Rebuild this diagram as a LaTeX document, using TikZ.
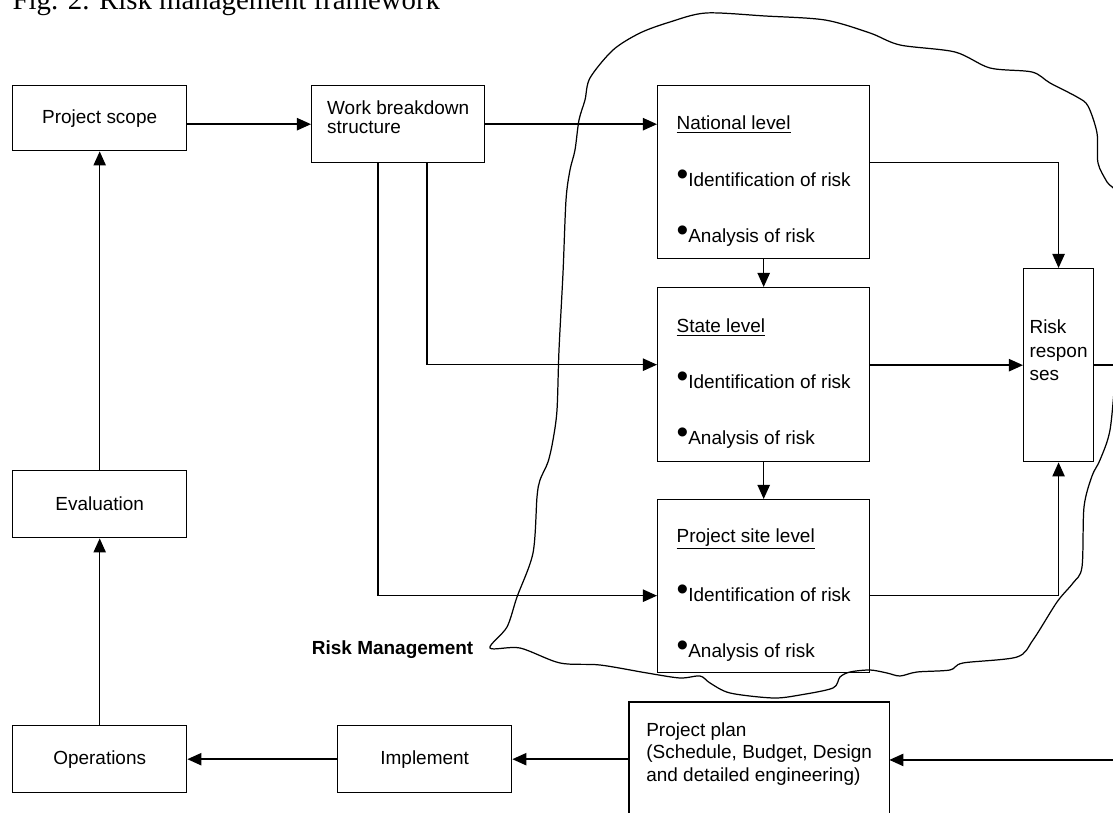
\documentclass[tikz,border=0pt]{standalone}
\usepackage{fontspec}
\setmainfont{Liberation Sans}
\newfontfamily\figserif{Liberation Serif}
\usetikzlibrary{arrows.meta}
\usetikzlibrary{positioning}

\newcommand{\bul}{\raisebox{.1ex}{\fontsize{19}{13}\selectfont\textbullet}}
\newcommand{\lift}[1]{\rule[-#1]{0pt}{1pt}}

\begin{document}
\begin{tikzpicture}[x=0.02cm, y=-0.02cm, line width=0.8pt,
  txt/.style={font=\fontsize{10.8}{13}\selectfont},
  block/.style={draw, txt, anchor=north west, minimum width=3.48cm, minimum height=1.3cm},
  level/.style={draw, txt, anchor=north west, align=left, minimum width=4.24cm, minimum height=3.46cm},
  arr/.style={-{Triangle[length=8pt,width=7pt]}}]
  \useasboundingbox (0,0) rectangle (1113,813);

  % title and label
  \node[anchor=base west, inner sep=0, font=\figserif\fontsize{16.4}{18}\selectfont] (title) at (12,10) {Fig. 2. Risk management framework};
  \node[anchor=east, inner sep=0, font=\fontsize{10.8}{13}\selectfont\bfseries] (rmlabel) at (474,650) {Risk Management};

  % boxes
  \node[block, align=left, minimum width=3.46cm, minimum height=1.54cm] (wbs) at (311,85) {Work breakdown\\[-2pt]structure\lift{8pt}};
  \node[block] (scope) at (12,85) {Project scope};
  \node[level] (nat) at (657,85) {\rule{0pt}{18pt}\underline{National level}\\[19pt]\bul Identification of risk\\[19pt]\bul Analysis of risk};
  \node[level, minimum height=3.48cm] (state) at (657,287) {\rule{0pt}{18pt}\underline{State level}\\[19pt]\bul Identification of risk\\[19pt]\bul Analysis of risk};
  \node[level] (site) at (657,499) {\rule{0pt}{18pt}\underline{Project site level}\\[19pt]\bul Identification of risk\\[19pt]\bul Analysis of risk};
  \node[draw, txt, anchor=north west, align=left, minimum width=1.36cm, minimum height=3.86cm] (resp) at (1023,268) {Risk\\[0.5pt]respon\\[0.5pt]ses\lift{17pt}};
  \node[block, minimum height=1.34cm] (eval) at (12,470) {Evaluation};
  \node[block, minimum height=1.34cm] (oper) at (12,725) {Operations};
  \node[block, minimum height=1.34cm] (impl) at (337,725) {Implement};
  \node[txt, anchor=north west, align=left, minimum width=5.18cm, minimum height=2.05cm] (plan) at (629,702) {Project plan\\(Schedule, Budget, Design\\and detailed engineering)};
  \draw ([yshift=-1cm]plan.south west) -- (plan.north west) -- (plan.north east) -- ([yshift=-1cm]plan.south east);

  % risk management boundary
  \draw[line width=0.7pt] plot[smooth cycle, tension=0.5] coordinates {
    (706,13) (765,16) (825,20) (870,33) (900,45) (955,52) (990,68) (1032,72)
    (1050,83) (1077,97) (1088,106) (1097,133) (1098,163) (1107,182) (1118,200)
    (1125,290) (1116,370) (1110,430) (1100,460) (1092,476) (1084,507) (1082,567)
    (1073,583) (1057,602) (1033,640) (1017,657) (963,663) (950,670) (917,672)
    (900,676) (887,673) (870,670) (850,672) (840,677) (833,688) (800,695)
    (773,698) (730,693) (710,683) (700,676) (680,678) (647,673) (600,665)
    (560,663) (520,648) (490,648) (507,627) (517,597) (533,553) (537,497)
    (540,480) (548,462) (553,440) (557,410) (559,350) (563,273) (566,200)
    (570,170) (575,150) (579,120) (585,100) (590,78) (613,50) (640,33) (670,22)};

  % connectors
  \coordinate (wbsA) at (378,0);
  \coordinate (wbsB) at (427,0);
  \coordinate (edge) at (1125,0);
  \draw[arr] (scope.east |- wbs.west) -- (wbs.west);
  \draw[arr] (wbs.east) -- (nat.west |- wbs.east);
  \draw[arr] (wbs.south -| wbsB) |- ([yshift=0.2cm]state.west);
  \draw[arr] (wbs.south -| wbsA) |- ([yshift=-0.19cm]site.west);
  \draw[arr] (nat.south) -- (state.north);
  \draw[arr] (state.south) -- (site.north);
  \draw[arr] ([yshift=0.19cm]nat.east) -| (resp.north);
  \draw[arr] (state.east |- resp.west) -- (resp.west);
  \draw[arr] ([yshift=-0.19cm]site.east) -| (resp.south);
  \draw[arr] (resp.east) -- (resp.east -| edge) |- ([yshift=-0.12cm]plan.east);
  \draw[arr] (plan.west |- impl.east) -- (impl.east);
  \draw[arr] (impl.west) -- (oper.east);
  \draw[arr] (oper.north) -- (eval.south);
  \draw[arr] (eval.north) -- (scope.south);
\end{tikzpicture}
\end{document}
